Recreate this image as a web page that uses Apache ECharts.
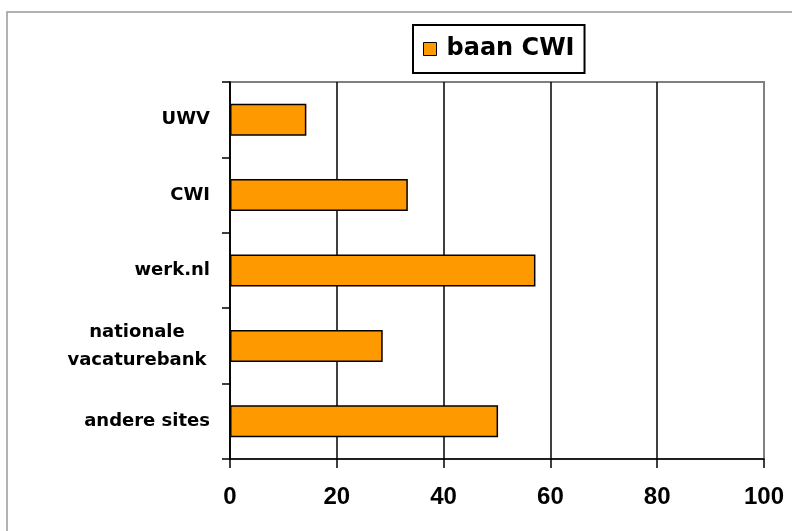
<!DOCTYPE html>
<html>
<head>
<meta charset="utf-8">
<script src="https://cdn.jsdelivr.net/npm/echarts@6/dist/echarts.min.js"></script>
<style>
  html, body { margin: 0; padding: 0; background: #fff; }
  #chart { width: 792px; height: 531px; }
</style>
</head>
<body>
<div id="chart"></div>
<script>
// categories top to bottom
var categories = ['UWV', 'CWI', 'werk.nl', 'nationale\nvacaturebank', 'andere sites'];
var baanCWI = [14.3, 33.3, 57.2, 28.6, 50.2];
var xTicks = [0, 20, 40, 60, 80, 100];

var chart = echarts.init(document.getElementById('chart'), null, { renderer: 'canvas' });

var wideFont = 'DejaVu Sans, Verdana, sans-serif';

var option = {
  backgroundColor: '#fff',
  animation: false,
  textStyle: { fontFamily: 'Liberation Sans, Arial, sans-serif' },
  graphic: [{
    type: 'rect',
    shape: { x: 7, y: 12, width: 820, height: 560 },
    style: { fill: 'none', stroke: '#999', lineWidth: 1.5 },
    silent: true
  }],
  legend: {
    left: 413,
    top: 25,
    padding: [12, 10, 12, 10],
    borderColor: '#000',
    borderWidth: 2,
    icon: 'rect',
    itemWidth: 13,
    itemHeight: 13,
    itemGap: 10,
    itemStyle: { borderColor: '#000', borderWidth: 1 },
    textStyle: { fontSize: 24, fontWeight: 'bold', color: '#000', fontFamily: wideFont, padding: [0, 0, 0, 5] },
    data: ['baan CWI']
  },
  grid: {
    left: 230,
    right: 28,
    top: 82,
    bottom: 72,
    show: true,
    borderColor: '#808080',
    borderWidth: 2
  },
  xAxis: {
    type: 'value',
    min: 0,
    max: 100,
    interval: 20,
    axisLine: { show: true, lineStyle: { color: '#000', width: 1.5 } },
    axisTick: { show: true, length: 9, lineStyle: { color: '#000', width: 1.5 } },
    splitLine: { show: true, showMaxLine: false, lineStyle: { color: '#000', width: 1.5 } },
    axisLabel: {
      margin: 26,
      fontSize: 24,
      fontWeight: 'bold',
      color: '#000',
      formatter: function (v) { return xTicks.indexOf(v) >= 0 ? String(v) : ''; }
    }
  },
  yAxis: {
    type: 'category',
    inverse: true,
    data: categories,
    axisLine: { show: true, lineStyle: { color: '#000', width: 1.5 } },
    axisTick: { show: true, length: 8, lineStyle: { color: '#000', width: 1.5 } },
    axisLabel: {
      margin: 20,
      fontSize: 18,
      fontWeight: 'bold',
      fontFamily: wideFont,
      color: '#000',
      lineHeight: 28,
      formatter: function (v) {
        if (v.indexOf('\n') >= 0) {
          return v.split('\n').map(function (s) { return '{c|' + s + '}'; }).join('\n');
        }
        return v;
      },
      rich: {
        c: { width: 146, align: 'center', fontSize: 18, fontWeight: 'bold', fontFamily: wideFont, color: '#000', lineHeight: 28 }
      }
    }
  },
  series: [{
    name: 'baan CWI',
    type: 'bar',
    data: baanCWI,
    barWidth: 32,
    itemStyle: { color: '#FF9900', borderColor: '#000', borderWidth: 1.5 }
  }]
};

chart.setOption(option);
</script>
</body>
</html>
